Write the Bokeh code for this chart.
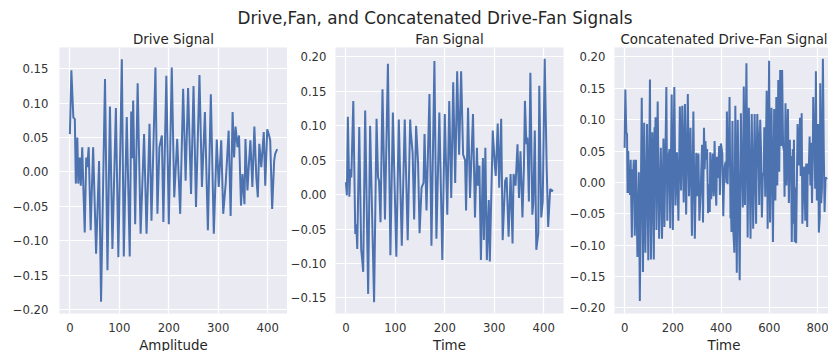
import numpy as np
from bokeh.plotting import figure
from bokeh.models import Range1d, FixedTicker, CustomJSTickFormatter, Title, Div
from bokeh.layouts import row, column
from bokeh.embed import file_html
from bokeh.resources import INLINE

# ---------------- data ----------------
drive_t = [0, 3, 7, 10, 12, 15, 17, 20, 22, 25, 27, 30, 33, 35, 38, 42, 47, 53, 59, 63,
           71, 76, 81, 86, 93, 98, 105, 109, 115, 121, 124, 126, 128, 132, 137, 143, 150,
           155, 161, 165, 173, 177, 181, 186, 189, 195, 200, 206, 211, 217, 223, 229, 234,
           239, 245, 250, 255, 262, 267, 273, 279, 285, 291, 297, 301, 306, 310, 315, 321,
           325, 329, 332, 335, 339, 342, 346, 349, 353, 355, 359, 362, 365, 369, 373, 377,
           380, 383, 387, 392, 395, 399, 402, 405, 409, 413, 415, 419]
drive_v = [0.055, 0.148, 0.079, 0.077, -0.017, 0.050, -0.017, 0.021, -0.020, 0.036, -0.017,
           -0.088, 0.021, 0.007, 0.036, -0.085, 0.036, -0.119, 0.016, -0.189,
           0.135, -0.143, 0.095, -0.112, 0.093, -0.124, 0.164, -0.123, 0.080, -0.123, 0.088,
           0.020, 0.104, -0.076, 0.129, -0.090, 0.055,
           -0.090, 0.070, -0.071, 0.152, -0.061, 0.036, 0.053, -0.073, 0.140, -0.076, 0.152,
           -0.037, 0.048, -0.061, 0.121, -0.013,
           0.122, -0.032, 0.125, -0.051, 0.141, -0.022, 0.087, -0.085, 0.113, -0.090, 0.047,
           -0.022, 0.046, -0.061, -0.017, 0.060,
           -0.064, 0.087, 0.021, 0.066, 0.036, 0.053, -0.049, -0.003, -0.047, 0.048, -0.027,
           0.012, 0.046, -0.022, 0.066, -0.008,
           -0.037, 0.041, 0.007, 0.058, -0.020, 0.062, 0.055, 0.046, -0.054, 0.016, 0.026, 0.033]

fan_t = [0, 2, 4, 7, 9, 11, 15, 19, 21, 23, 27, 31, 33, 35, 39, 45, 49, 57, 62, 65, 67, 70,
         74, 79, 85, 90, 95, 102, 107, 113, 119, 125, 130, 131, 135, 138, 142, 146, 149, 153,
         157, 159, 163, 169, 173, 179, 183, 189, 195, 200, 205, 209, 213, 217, 221, 225, 229,
         233, 237, 241, 243, 247, 251, 257, 261, 265, 267, 270, 273, 277, 279, 282, 285, 289,
         291, 297, 301, 303, 307, 310, 314, 317, 322, 325, 329, 333, 337, 339, 343, 347, 350,
         353, 357, 360, 362, 365, 367, 370, 373, 377, 379, 382, 385, 389, 391, 395, 398, 402,
         406, 409, 413, 419]
fan_v = [0.018, -0.001, 0.113, -0.003, 0.037, 0.025, 0.136, -0.057, -0.043, -0.079, 0.098,
         -0.080, -0.095, -0.112, 0.122, -0.144, 0.100, -0.156, 0.110, 0.025, 0.020, -0.040,
         0.153, -0.036, 0.190, -0.088, 0.119, -0.090, 0.109, -0.074, 0.109, -0.066, 0.109,
         0.093, 0.060, -0.036, 0.100, 0.045, -0.056, 0.010,
         0.017, 0.088, -0.023, 0.146, -0.074, 0.194, -0.064, 0.119, -0.095, 0.117, -0.029,
         0.136, -0.005, 0.163, 0.017, 0.179, 0.058,
         0.179, 0.058, 0.050, -0.023, 0.126, -0.005, 0.117, -0.033, 0.068, 0.013, 0.042,
         -0.095, 0.053, -0.066, 0.068, -0.095, -0.008,
         -0.097, 0.093, 0.044, 0.027, 0.103, 0.010, 0.110, -0.066, 0.020, 0.025, -0.061,
         0.030, -0.071, 0.030, 0.013, 0.073, -0.005,
         0.063, -0.033, 0.040, 0.136, 0.073, 0.083, -0.010, 0.177, -0.029, -0.012, 0.093,
         -0.080, -0.056, 0.158, -0.033, -0.010, 0.197,
         0.040, -0.047, 0.008, 0.005]

drive_len = 420  # samples in the drive signal

suptitle = "Drive,Fan, and Concatenated Drive-Fan Signals"
titles = ["Drive Signal", "Fan Signal", "Concatenated Drive-Fan Signal"]
xlabels = ["Amplitude", "Time", "Time"]
xticks_single = [0, 100, 200, 300, 400]
xticks_concat = [0, 200, 400, 600, 800]
yticks_drive = [-0.20, -0.15, -0.10, -0.05, 0.00, 0.05, 0.10, 0.15]
yticks_fan = [-0.15, -0.10, -0.05, 0.00, 0.05, 0.10, 0.15, 0.20]
yticks_concat = [-0.20, -0.15, -0.10, -0.05, 0.00, 0.05, 0.10, 0.15, 0.20]

# concatenated signal derived from the two series
concat_t = np.concatenate([np.array(drive_t), np.array(fan_t) + drive_len])
concat_v = np.concatenate([np.array(drive_v), np.array(fan_v)])

# ---------------- styling ----------------
BG = "#EAEAF2"
LINE = "#4C72B0"
TXT = "#262626"
TICK_TXT = "#333333"
FONT = "DejaVu Sans"

FH = 266


def make(title, xlabel, t, v, xr, yr, xt, yt, fw, bl, br, ystand):
    p = figure(frame_width=fw, frame_height=FH,
               x_range=Range1d(*xr), y_range=Range1d(*yr),
               output_backend="svg", toolbar_location=None,
               min_border_left=bl, min_border_right=br,
               min_border_top=19, min_border_bottom=20)
    p.background_fill_color = BG
    p.border_fill_color = "white"
    p.outline_line_color = None
    p.grid.grid_line_color = "white"
    p.grid.grid_line_width = 1.2
    for ax in p.axis:
        ax.axis_line_color = None
        ax.major_tick_line_color = None
        ax.minor_tick_line_color = None
        ax.major_tick_out = 0
        ax.major_tick_in = 0
        ax.minor_tick_out = 0
        ax.minor_tick_in = 0
        ax.major_label_text_font = FONT
        ax.major_label_text_font_size = "11.7px"
        ax.major_label_text_color = TICK_TXT
    p.xaxis.ticker = FixedTicker(ticks=xt)
    p.yaxis.ticker = FixedTicker(ticks=yt)
    p.xaxis.major_label_standoff = 9
    p.yaxis.major_label_standoff = ystand
    p.yaxis.formatter = CustomJSTickFormatter(
        code="return tick.toFixed(2).replace('-', '\u2212');")

    p.title.text = title
    p.title.align = "center"
    p.title.text_font = FONT
    p.title.text_font_size = "13.4px"
    p.title.text_font_style = "normal"
    p.title.text_color = TXT
    p.title.standoff = 2

    xl = Title(text=xlabel, align="center", text_font=FONT,
               text_font_size="13.4px", text_font_style="normal",
               text_color=TXT, standoff=2)
    p.add_layout(xl, "below")

    p.line(t, v, line_color=LINE, line_width=2)
    return p


p1 = make(titles[0], xlabels[0], drive_t, drive_v, (-21, 440), (-0.206, 0.181),
          xticks_single, yticks_drive, 228, 59, 0, 11)
p2 = make(titles[1], xlabels[1], fan_t, fan_v, (-21, 440), (-0.1725, 0.2135),
          xticks_single, yticks_fan, 228, 46, 3, 9)
p3 = make(titles[2], xlabels[2], concat_t, concat_v, (-42, 866), (-0.209, 0.215),
          xticks_concat, yticks_concat, 219, 45, 0, 9)

head = Div(text=('<div style="display:block;width:786px;margin-left:42px;text-align:center;'
                 'font-family:\'DejaVu Sans\';font-size:16.8px;line-height:18px;'
                 'padding-top:9px;color:%s;">%s</div>' % (TXT, suptitle)),
           width=828, height=28, margin=0)

layout = column(head, row(p1, p2, p3, spacing=0), spacing=0)

open("out.html", "w").write(file_html(layout, INLINE))
